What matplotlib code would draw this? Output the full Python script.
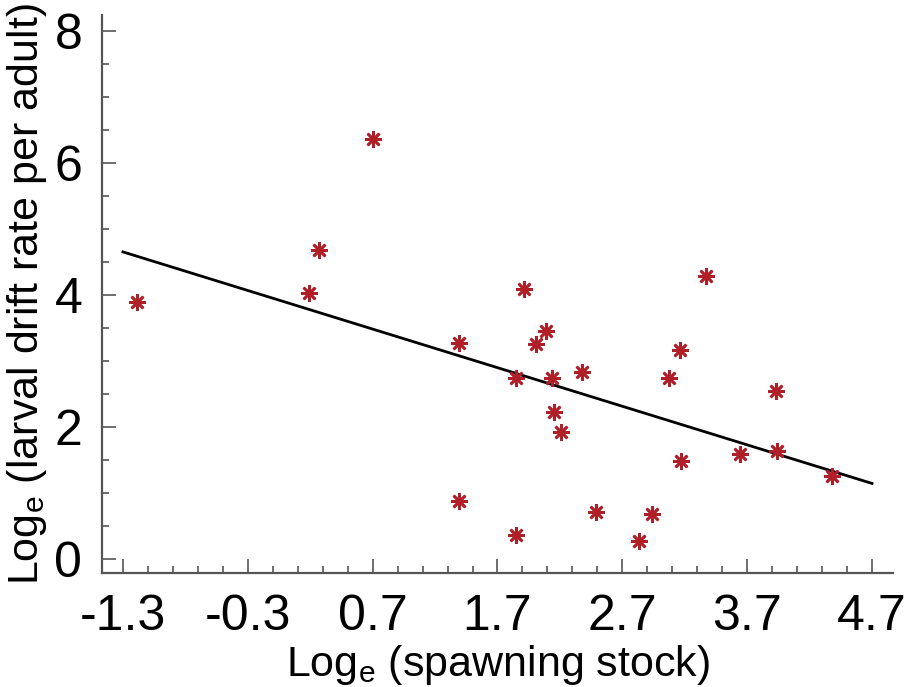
import numpy as np
import matplotlib
matplotlib.use('Agg')
import matplotlib.pyplot as plt

plt.rcParams['font.family'] = ['Liberation Sans', 'DejaVu Sans']
plt.rcParams['mathtext.fontset'] = 'custom'
plt.rcParams['mathtext.rm'] = 'Liberation Sans'

# log_e spawning stock vs log_e larval drift rate per adult
stock = [-1.19, 0.70, 0.27, 0.19, 1.39, 1.91, 2.01, 2.09, 1.85, 1.39, 1.85,
         2.14, 2.38, 2.15, 2.21, 3.37, 3.16, 3.07, 3.93, 3.17, 3.64, 3.94,
         4.38, 2.49, 2.94, 2.83]
drift = [3.90, 6.37, 4.68, 4.03, 3.28, 4.09, 3.26, 3.45, 2.75, 0.88, 0.37,
         2.75, 2.83, 2.23, 1.92, 4.29, 3.16, 2.74, 2.54, 1.49, 1.59, 1.63,
         1.26, 0.71, 0.69, 0.28]
xticks = [-1.3, -0.3, 0.7, 1.7, 2.7, 3.7, 4.7]
yticks = [0, 2, 4, 6, 8]

x = np.array(stock)
y = np.array(drift)
slope, intercept = np.polyfit(x, y, 1)

fig = plt.figure(figsize=(9.14, 6.87), dpi=100)
ax = fig.add_axes([0.1113, 0.166, 0.866, 0.812])

# trend line over the tick range
xl = np.array([xticks[0], xticks[-1]])
ax.plot(xl, intercept + slope * xl, color='black', lw=2, zorder=2)

# asterisk markers
ax.plot(x, y, ls='none', marker=(8, 2, 0), ms=12, mew=1.9,
        color='#b01e28', zorder=3)

ax.set_xlim(-1.47, 4.87)
ax.set_ylim(-0.21, 8.24)

for s in ['top', 'right']:
    ax.spines[s].set_visible(False)
for s in ['left', 'bottom']:
    ax.spines[s].set_color('#555555')
    ax.spines[s].set_linewidth(1.6)

ax.set_xticks(xticks)
ax.set_xticklabels(['%.1f' % v for v in xticks])
ax.set_xticks(np.arange(-1.3, 4.71, 0.2), minor=True)
ax.set_yticks(yticks)
ax.set_yticks(np.arange(0, 8.01, 0.5), minor=True)

ax.tick_params(which='major', direction='in', length=10, width=1.2,
               color='#555555', labelsize=36)
ax.tick_params(which='minor', direction='in', length=5, width=1.2,
               color='#555555')
ax.tick_params(axis='x', which='major', pad=15)
ax.tick_params(axis='y', which='major', pad=14)

ax.set_xlabel(r'Log$_\mathregular{e}$ (spawning stock)', fontsize=31, labelpad=2)
ax.set_ylabel(r'Log$_\mathregular{e}$ (larval drift rate per adult)', fontsize=31,
              labelpad=4)

fig.savefig('out.png', dpi=100)
